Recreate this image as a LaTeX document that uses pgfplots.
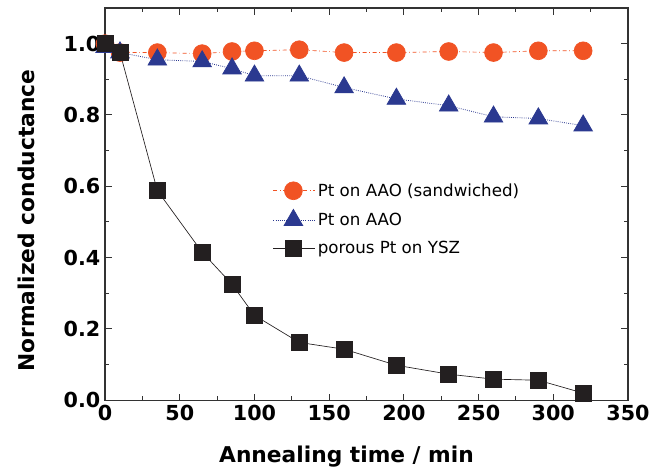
\documentclass[border=0pt]{standalone}
\usepackage{pgfplots}
\pgfplotsset{compat=1.18}
\usepackage{fontspec}
\setmainfont{DejaVu Sans}
\definecolor{corange}{RGB}{241,83,36}
\definecolor{cblue}{RGB}{43,57,144}
\definecolor{cblack}{RGB}{35,31,32}
\begin{document}
\begin{tikzpicture}
\begin{axis}[
  width=392pt, height=294pt, scale only axis,
  xmin=0, xmax=350, ymin=0, ymax=1.1,
  xtick={0,50,...,350}, ytick={0,0.2,...,1.0},
  minor xtick={25,75,...,325}, minor ytick={0.1,0.3,...,0.9},
  tick align=inside, major tick length=5pt, minor tick length=3pt,
  axis line style={line width=1pt, color=black!80},
  every tick/.style={line width=0.8pt, black!80},
  yticklabel style={/pgf/number format/.cd, fixed, fixed zerofill, precision=1},
  xticklabel style={/pgf/number format/.cd, fixed},
  /pgf/number format/assume math mode=true,
  ticklabel style={font=\fontsize{15.5}{18}\selectfont\bfseries},
  xlabel={Annealing time / min}, ylabel={Normalized conductance},
  label style={font=\fontsize{16.3}{19}\selectfont\bfseries},
  xlabel style={at={(rel axis cs:0.5,0)}, anchor=base, yshift=-46.5pt, xshift=-15pt},
  ylabel style={at={(rel axis cs:0,0.5)}, anchor=base, yshift=53pt, xshift=-12.5pt},
  legend style={at={(0.313,0.567)}, anchor=north west, draw=none, fill=none,
    font=\fontsize{12.5}{14}\selectfont, row sep=6.5pt},
  legend image code/.code={%
    \draw[mark repeat=2, mark phase=2] plot coordinates {(0pt,0pt) (15pt,0pt) (31pt,0pt)};},
  legend cell align=left,
  clip=false,
]
\addplot[corange, line width=0.5pt, dash dot, mark=*, mark size=6.7pt,
  mark options={solid, fill=corange, draw=corange}] coordinates {
(0,1.00) (10,0.975) (35,0.975) (65,0.972) (85,0.978) (100,0.98) (130,0.983)
(160,0.975) (195,0.975) (230,0.978) (260,0.975) (290,0.98) (320,0.98)};
\addlegendentry{Pt on AAO (sandwiched)}
\addplot[cblue, line width=0.6pt, densely dotted, mark=triangle*, mark size=8pt,
  mark options={solid, fill=cblue, draw=cblue}] coordinates {
(0,0.99) (10,0.975) (35,0.955) (65,0.95) (85,0.93) (100,0.91) (130,0.91)
(160,0.877) (195,0.845) (230,0.826) (260,0.795) (290,0.79) (320,0.77)};
\addlegendentry{Pt on AAO}
\addplot[cblack, line width=0.5pt, mark=square*, mark size=6pt,
  mark options={solid, fill=cblack, draw=cblack}] coordinates {
(0,1.00) (10,0.975) (35,0.588) (65,0.415) (85,0.325) (100,0.238) (130,0.162)
(160,0.143) (195,0.098) (230,0.073) (260,0.059) (290,0.056) (320,0.02)};
\addlegendentry{porous Pt on YSZ}
\end{axis}
\pgfresetboundingbox
\path (-78.75pt,-52.5pt) rectangle (421.25pt,300pt);
\end{tikzpicture}
\end{document}
